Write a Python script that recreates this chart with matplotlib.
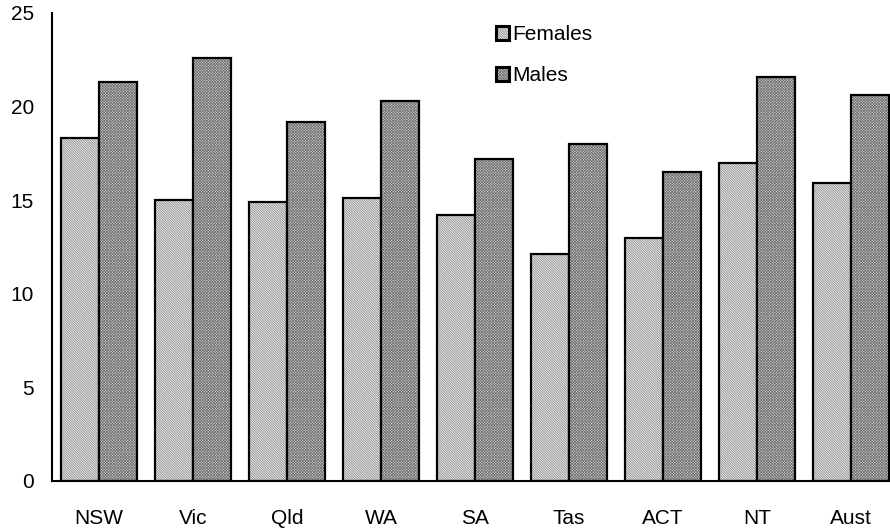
import matplotlib
matplotlib.use("Agg")
import matplotlib.pyplot as plt
from matplotlib.patches import Patch
from matplotlib.legend_handler import HandlerTuple
import numpy as np

categories = ["NSW", "Vic", "Qld", "WA", "SA", "Tas", "ACT", "NT", "Aust"]
females = [18.3, 15.0, 14.9, 15.1, 14.2, 12.1, 13.0, 17.0, 15.9]
males = [21.3, 22.6, 19.2, 20.3, 17.2, 18.0, 16.5, 21.6, 20.6]
yticks = [0, 5, 10, 15, 20, 25]

plt.rcParams['font.family'] = ['Liberation Sans', 'DejaVu Sans']
plt.rcParams['font.size'] = 15
plt.rcParams['hatch.linewidth'] = 0.5

fig = plt.figure(figsize=(8.9, 5.29), dpi=100)
ax = fig.add_axes([52/890, 48/529, 846/890, 468/529])

x = np.arange(len(categories))
w = 0.405
f_style = dict(facecolor='#f0f0f0', edgecolor='#7a7a7a', hatch='\\' * 14, linewidth=0)
m_style = dict(facecolor='#cfcfcf', edgecolor='#6e6e6e', hatch='x' * 12, linewidth=0)
edge_style = dict(fill=False, edgecolor='black', linewidth=1.6)

ax.bar(x - w/2, females, w, **f_style)
ax.bar(x - w/2, females, w, **edge_style)
ax.bar(x + w/2, males, w, **m_style)
ax.bar(x + w/2, males, w, **edge_style)

ax.set_xlim(-0.5, len(categories) - 0.5)
ax.set_ylim(0, 25)
ax.set_yticks(yticks)
ax.set_yticklabels([str(t) for t in yticks])
ax.set_xticks(x)
ax.set_xticklabels(categories)
ax.tick_params(axis='both', length=0)
ax.tick_params(axis='y', pad=13)
ax.tick_params(axis='x', pad=20)
for s in ['top', 'right']:
    ax.spines[s].set_visible(False)
for s in ['left', 'bottom']:
    ax.spines[s].set_linewidth(1.5)

handles = [(Patch(**f_style), Patch(fill=False, edgecolor='black', linewidth=2.2)),
           (Patch(**m_style), Patch(fill=False, edgecolor='black', linewidth=2.2))]
leg = ax.legend(handles, ['Females', 'Males'],
                handler_map={tuple: HandlerTuple(ndivide=1, pad=0)},
                loc='upper left', bbox_to_anchor=(486/890, 1 - 15/529),
                bbox_transform=fig.transFigure, frameon=False,
                handlelength=0.6, handleheight=0.6, handletextpad=0.15,
                labelspacing=1.05, borderpad=0)

fig.savefig("out.png", dpi=100)
